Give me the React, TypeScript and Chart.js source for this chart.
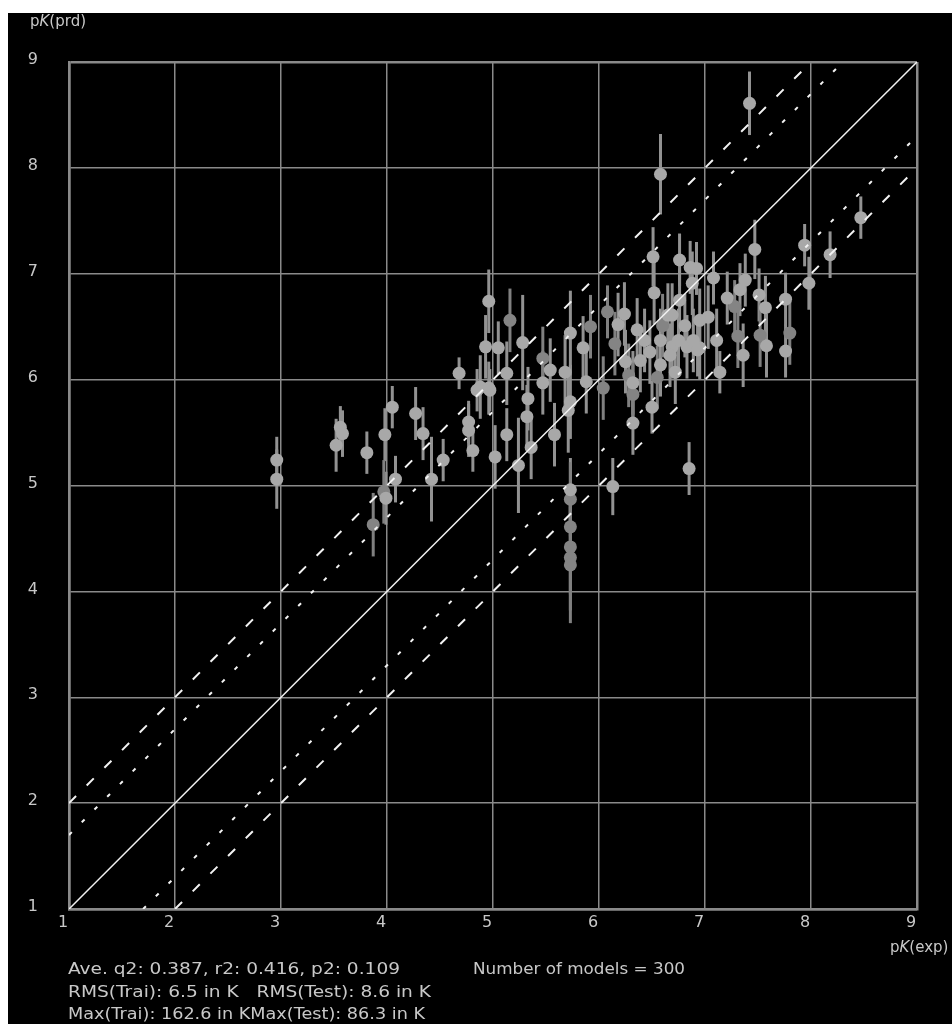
import React, { useEffect, useRef } from "react";
import { Chart, registerables } from "chart.js";

Chart.register(...registerables);

// ---- axis ----
const AXIS_MIN = 1;
const AXIS_MAX = 9;
const TICK_LABELS = ["1", "2", "3", "4", "5", "6", "7", "8", "9"];
const X_TITLE = "(exp)";
const Y_TITLE = "(prd)";

// reference lines: y = x, y = x ± 1 (dashed), y = x ± log10(5) (dotted)
const DASH_OFFSET = 1;
const DOT_OFFSET = 0.699;

// ---- light grey models (x = pK exp, y = pK prd, err = spread) ----
const LIGHT_X = [
  2.96, 2.96, 3.56, 3.58, 3.52, 3.81, 3.98, 4.05, 3.99, 4.08,
  4.27, 4.34, 4.42, 4.53, 4.68, 4.77, 4.77, 4.81, 4.85, 4.97,
  4.96, 5.28, 4.93, 5.05, 5.13, 4.88, 4.96, 5.33, 5.32, 5.13,
  5.02, 5.24, 5.36, 5.58, 5.54, 5.47, 5.68, 5.73, 5.85, 5.88,
  5.73, 5.71, 6.18, 6.32, 6.50, 6.32, 6.13, 6.85, 7.42, 6.58,
  6.51, 6.52, 6.76, 6.86, 6.92, 6.88, 6.76, 7.08, 7.03, 7.47,
  7.21, 7.38, 7.33, 7.51, 7.57, 7.76, 7.94, 8.18, 8.47, 7.98,
  7.11, 7.58, 7.76, 7.36, 7.14, 6.95, 6.83, 6.93, 6.69, 6.58,
  6.36, 6.43, 6.48, 6.39, 6.58, 6.67, 6.75, 6.81, 6.89, 6.72,
  6.25, 6.65, 6.69, 6.95, 5.73, 6.24,
];
const LIGHT_Y = [
  5.24, 5.06, 5.55, 5.49, 5.38, 5.31, 5.48, 5.74, 4.88, 5.06,
  5.68, 5.49, 5.06, 5.24, 6.06, 5.60, 5.52, 5.33, 5.90, 5.90,
  6.74, 6.35, 6.31, 6.30, 6.06, 5.93, 5.92, 5.82, 5.65, 5.48,
  5.27, 5.19, 5.36, 5.48, 6.09, 5.97, 6.07, 6.44, 6.30, 5.98,
  5.79, 5.71, 6.52, 5.97, 5.74, 5.59, 4.99, 5.16, 8.61, 7.94,
  7.16, 6.82, 7.13, 7.06, 7.05, 6.91, 6.75, 6.96, 6.59, 7.23,
  6.77, 6.94, 6.85, 6.80, 6.68, 6.76, 7.27, 7.18, 7.53, 6.91,
  6.37, 6.32, 6.27, 6.23, 6.07, 6.30, 6.31, 6.28, 6.31, 6.37,
  6.47, 6.37, 6.26, 6.18, 6.14, 6.23, 6.37, 6.51, 6.37, 6.07,
  6.17, 6.61, 6.61, 6.56, 4.96, 6.62,
];
const LIGHT_ERR = [
  0.22, 0.28, 0.20, 0.22, 0.25, 0.20, 0.25, 0.20, 0.25, 0.22,
  0.25, 0.25, 0.40, 0.20, 0.15, 0.20, 0.25, 0.20, 0.20, 0.20,
  0.30, 0.45, 0.30, 0.25, 0.30, 0.30, 0.25, 0.30, 0.30, 0.25,
  0.30, 0.45, 0.30, 0.30, 0.30, 0.30, 0.35, 0.40, 0.30, 0.30,
  0.35, 0.40, 0.30, 0.30, 0.25, 0.30, 0.27, 0.25, 0.30, 0.38,
  0.28, 0.30, 0.25, 0.25, 0.25, 0.30, 0.30, 0.25, 0.30, 0.28,
  0.25, 0.25, 0.25, 0.25, 0.30, 0.25, 0.20, 0.22, 0.20, 0.25,
  0.30, 0.30, 0.25, 0.30, 0.20, 0.30, 0.30, 0.25, 0.30, 0.30,
  0.30, 0.30, 0.30, 0.30, 0.30, 0.30, 0.30, 0.30, 0.30, 0.30,
  0.30, 0.30, 0.30, 0.30, 0.30, 0.30,
];

// ---- darker grey models ----
const DARK_X = [
  3.87, 3.97, 5.16, 5.47, 5.92, 6.08, 6.15, 6.04, 6.32, 7.28,
  7.31, 7.52, 7.80, 6.60, 6.55, 6.28, 5.73, 5.73, 5.73, 5.73,
  5.73,
];
const DARK_Y = [
  4.63, 4.94, 6.56, 6.20, 6.50, 6.64, 6.34, 5.92, 5.86, 6.69,
  6.41, 6.42, 6.44, 6.51, 6.02, 6.04, 4.87, 4.61, 4.42, 4.32,
  4.25,
];
const DARK_ERR = [
  0.30, 0.30, 0.30, 0.30, 0.30, 0.25, 0.30, 0.30, 0.30, 0.25,
  0.30, 0.30, 0.30, 0.30, 0.30, 0.30, 0.35, 0.40, 0.45, 0.50,
  0.55,
];

// ---- footer text ----
const STAT_LINE1 = "Ave. q2: 0.387, r2: 0.416, p2: 0.109";
const MODELS_TEXT = "Number of models = 300";
const RMS_LINE = "RMS(Trai): 6.5 in K   RMS(Test): 8.6 in K";
const MAX_LINE = "Max(Trai): 162.6 in KMax(Test): 86.3 in K";

const TEXT_COLOR = "#c8c8c8";
const GRID_COLOR = "#8a8a8a";
const FONT = "'DejaVu Sans', 'Liberation Sans', sans-serif";

const bgPlugin = {
  id: "bg",
  beforeDraw(chart: any) {
    const { ctx, width, height } = chart;
    ctx.save();
    ctx.fillStyle = "#ffffff";
    ctx.fillRect(0, 0, width, height);
    ctx.fillStyle = "#000000";
    ctx.fillRect(8, 13, width - 8, height - 13);
    ctx.restore();
  },
};

const errPlugin = {
  id: "errbars",
  beforeDatasetsDraw(chart: any) {
    const { ctx, scales, chartArea } = chart;
    ctx.save();
    ctx.beginPath();
    ctx.rect(chartArea.left, chartArea.top, chartArea.right - chartArea.left, chartArea.bottom - chartArea.top);
    ctx.clip();
    chart.data.datasets.forEach((ds: any) => {
      if (!ds.errors) return;
      ctx.strokeStyle = ds.errColor;
      ctx.lineWidth = 3;
      ds.data.forEach((p: any, i: number) => {
        const e = ds.errors[i];
        const px = scales.x.getPixelForValue(p.x);
        ctx.beginPath();
        ctx.moveTo(px, scales.y.getPixelForValue(p.y - e));
        ctx.lineTo(px, scales.y.getPixelForValue(p.y + e));
        ctx.stroke();
      });
    });
    ctx.restore();
  },
};

function fitText(ctx: any, text: string, x0: number, x1: number, y: number) {
  const w = ctx.measureText(text).width;
  const s = (x1 - x0) / w;
  ctx.save();
  ctx.translate(x0, y);
  ctx.scale(s, 1);
  ctx.fillText(text, 0, 0);
  ctx.restore();
}

function drawPK(ctx: any, suffix: string, x: number, y: number) {
  ctx.save();
  ctx.font = `15px ${FONT}`;
  ctx.fillText("p", x, y);
  let cx = x + ctx.measureText("p").width;
  ctx.font = `italic 15px ${FONT}`;
  ctx.fillText("K", cx, y);
  cx += ctx.measureText("K").width;
  ctx.font = `15px ${FONT}`;
  ctx.fillText(suffix, cx, y);
  ctx.restore();
}

const textPlugin = {
  id: "texts",
  afterDraw(chart: any) {
    const { ctx } = chart;
    ctx.save();
    ctx.fillStyle = TEXT_COLOR;
    ctx.textBaseline = "middle";
    ctx.textAlign = "left";
    drawPK(ctx, Y_TITLE, 30, 22);
    drawPK(ctx, X_TITLE, 890, 948);
    ctx.font = `15px ${FONT}`;
    fitText(ctx, STAT_LINE1, 68, 400, 970);
    fitText(ctx, MODELS_TEXT, 473, 685, 970);
    fitText(ctx, RMS_LINE, 68, 431, 993);
    fitText(ctx, MAX_LINE, 68, 425, 1015);
    ctx.restore();
  },
};

function toPoints(xs: number[], ys: number[]) {
  return xs.map((x, i) => ({ x, y: ys[i] }));
}

function refLine(offset: number) {
  // y = x + offset clipped to the axis square
  const x0 = Math.max(AXIS_MIN, AXIS_MIN - offset);
  const x1 = Math.min(AXIS_MAX, AXIS_MAX - offset);
  return [
    { x: x0, y: x0 + offset },
    { x: x1, y: x1 + offset },
  ];
}

export default function App() {
  const ref = useRef<HTMLCanvasElement>(null);

  useEffect(() => {
    const canvas = ref.current;
    if (!canvas) return;
    const lineBase = {
      type: "scatter",
      showLine: true,
      pointRadius: 0,
      pointHoverRadius: 0,
      borderColor: "#f2f2f2",
      fill: false,
      order: 0,
    };
    const tickFont = { family: FONT, size: 16 };
    const gridWidth = (c: any) =>
      c.tick && (c.tick.value === AXIS_MIN || c.tick.value === AXIS_MAX) ? 2.5 : 1.5;

    const chart = new Chart(canvas, {
      type: "scatter",
      data: {
        datasets: [
          { ...lineBase, data: refLine(0), borderWidth: 1.5 },
          { ...lineBase, data: refLine(DASH_OFFSET), borderWidth: 2, borderDash: [10, 15] },
          { ...lineBase, data: refLine(-DASH_OFFSET), borderWidth: 2, borderDash: [10, 15] },
          { ...lineBase, data: refLine(DOT_OFFSET), borderWidth: 2, borderDash: [4, 14] },
          { ...lineBase, data: refLine(-DOT_OFFSET), borderWidth: 2, borderDash: [4, 14] },
          {
            data: toPoints(LIGHT_X, LIGHT_Y),
            errors: LIGHT_ERR,
            errColor: "#929292",
            pointRadius: 6.5,
            pointHoverRadius: 6.5,
            pointBackgroundColor: "#a8a8a8",
            pointBorderWidth: 0,
            order: 1,
          } as any,
          {
            data: toPoints(DARK_X, DARK_Y),
            errors: DARK_ERR,
            errColor: "#808080",
            pointRadius: 6.5,
            pointHoverRadius: 6.5,
            pointBackgroundColor: "#848484",
            pointBorderWidth: 0,
            order: 2,
          } as any,
        ] as any,
      },
      options: {
        responsive: false,
        animation: false,
        devicePixelRatio: 1,
        layout: { padding: { left: 0, top: 62, right: 35, bottom: 0 } },
        plugins: { legend: { display: false }, tooltip: { enabled: false } },
        scales: {
          x: {
            type: "linear",
            min: AXIS_MIN,
            max: AXIS_MAX,
            afterFit: (s: any) => {
              s.height = 115;
            },
            ticks: {
              stepSize: 1,
              color: TEXT_COLOR,
              font: tickFont,
              padding: 4,
              labelOffset: -6,
              maxRotation: 0,
              callback: (v: any) => TICK_LABELS[Math.round(v) - AXIS_MIN] ?? "",
            },
            grid: { color: GRID_COLOR, lineWidth: gridWidth, drawTicks: false },
            border: { display: true, color: GRID_COLOR, width: 2.5 },
          },
          y: {
            type: "linear",
            min: AXIS_MIN,
            max: AXIS_MAX,
            afterFit: (s: any) => {
              s.width = 69;
            },
            ticks: {
              stepSize: 1,
              color: TEXT_COLOR,
              font: tickFont,
              padding: 31,
              crossAlign: "center",
              labelOffset: -2,
              callback: (v: any) => TICK_LABELS[Math.round(v) - AXIS_MIN] ?? "",
            },
            grid: { color: GRID_COLOR, lineWidth: gridWidth, drawTicks: false },
            border: { display: true, color: GRID_COLOR, width: 2.5 },
          },
        },
      } as any,
      plugins: [bgPlugin, errPlugin, textPlugin],
    });
    return () => chart.destroy();
  }, []);

  return (
    <canvas
      ref={ref}
      width={952}
      height={1024}
      style={{ position: "absolute", left: 0, top: 0, width: 952, height: 1024 }}
    />
  );
}
